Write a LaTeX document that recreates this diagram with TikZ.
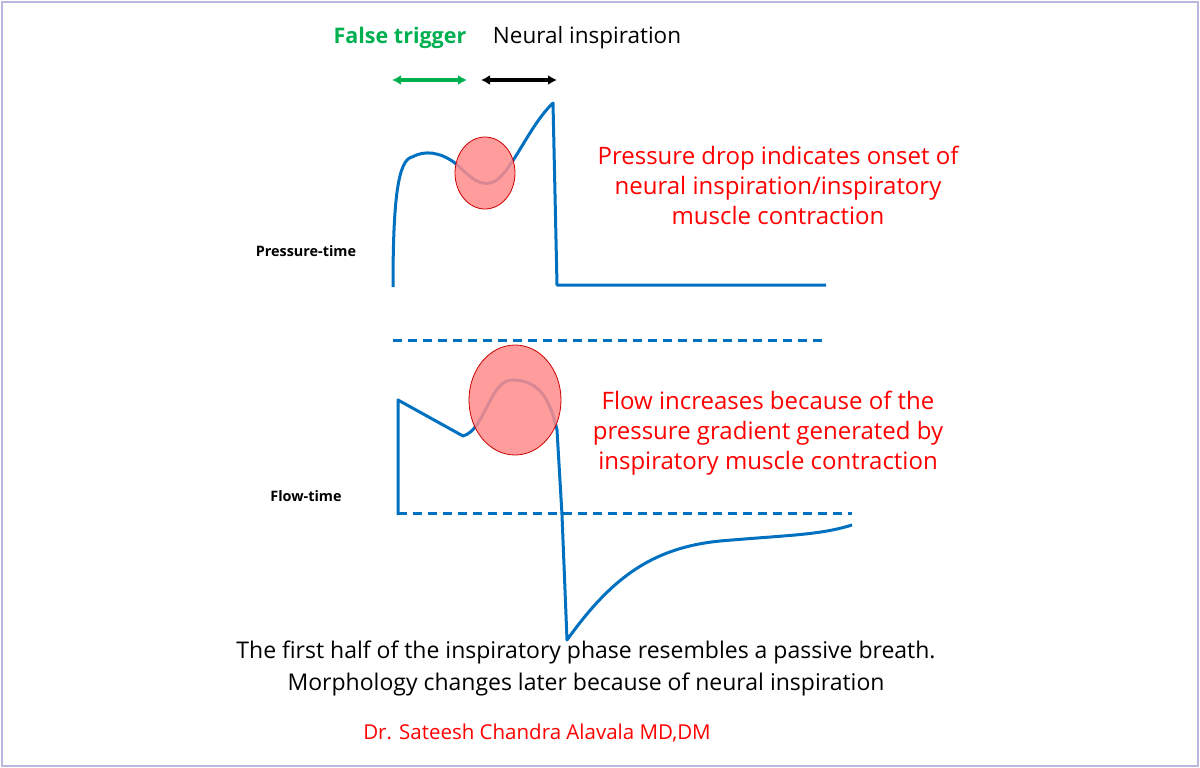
\documentclass[tikz,border=0pt]{standalone}
\usepackage{fontspec}
\setmainfont{Open Sans}
\usetikzlibrary{arrows.meta}
\definecolor{wave}{RGB}{0,112,192}
\definecolor{trig}{RGB}{0,176,80}
\tikzset{
  curve/.style={wave,line width=3pt,line join=round},
  zone/.style={draw=red!80!black,fill=red!45,fill opacity=0.85,line width=0.8pt},
  span/.style={{Latex[length=9pt,width=10pt]}-{Latex[length=9pt,width=10pt]},line width=3.5pt},
  note/.style={red,align=center,font=\fontsize{24}{30}\selectfont},
  axlab/.style={font=\bfseries\fontsize{14.4}{15}\selectfont}
}
\begin{document}
\begin{tikzpicture}[x=1pt,y=-1pt]
\useasboundingbox (0,0) rectangle (1200,768);
\draw[gray!60!blue!40,line width=1.5pt] (2,2) rectangle (1198,766);
% titles and spans
\node[trig,font=\bfseries\fontsize{21.5}{26}\selectfont] (ft) at (400,38) {False trigger};
\node[font=\fontsize{22.5}{26}\selectfont] (ni) at (587,38) {Neural inspiration};
\coordinate (g1) at (392,80); \coordinate (g2) at (467,80);
\coordinate (b1) at (481,80); \coordinate (b2) at (557,80);
\draw[span,trig] (g1) -- (g2);
\draw[span,black] (b1) -- (b2);
% pressure-time
\node[axlab] (pt) at (306,251) {Pressure-time};
\draw[curve] (393,287) .. controls (393,200) and (398,160) .. (412,157)
  .. controls (425,150) and (440,152) .. (455,163)
  .. controls (470,176) and (480,190) .. (497,180)
  .. controls (515,165) and (530,125) .. (553,103)
  -- (557,285) -- (826,285);
\draw[zone] (485,173) ellipse[x radius=30,y radius=36];
\draw[curve,dashed,dash pattern=on 9pt off 6pt] (393,340) -- (826,340);
\node[note] (pn) at (778,185) {Pressure drop indicates onset of\\neural inspiration/inspiratory\\muscle contraction};
% flow-time
\node[axlab] (fl) at (306,496) {Flow-time};
\draw[curve] (398,515) -- (398,400) -- (463,436)
  .. controls (485,430) and (490,380) .. (512,380)
  .. controls (540,380) and (550,400) .. (557,430)
  -- (562,515) -- (567,640)
  .. controls (610,580) and (650,548) .. (720,541)
  .. controls (790,535) and (820,535) .. (852,525);
\draw[curve,dashed,dash pattern=on 9pt off 6pt] (398,513) -- (852,513);
\draw[zone] (515,400) ellipse[x radius=46,y radius=55];
\node[note] (fn) at (768,433) {Flow increases because of the\\pressure gradient generated by\\inspiratory muscle contraction};
% footer
\node[align=center,font=\fontsize{23}{32}\selectfont] (ft2) at (586,668) {The first half of the inspiratory phase resembles a passive breath.\\Morphology changes later because of neural inspiration};
\node[red,font=\fontsize{20.5}{22}\selectfont] (au) at (537,733) {Dr. Sateesh Chandra Alavala MD,DM};
\end{tikzpicture}
\end{document}
